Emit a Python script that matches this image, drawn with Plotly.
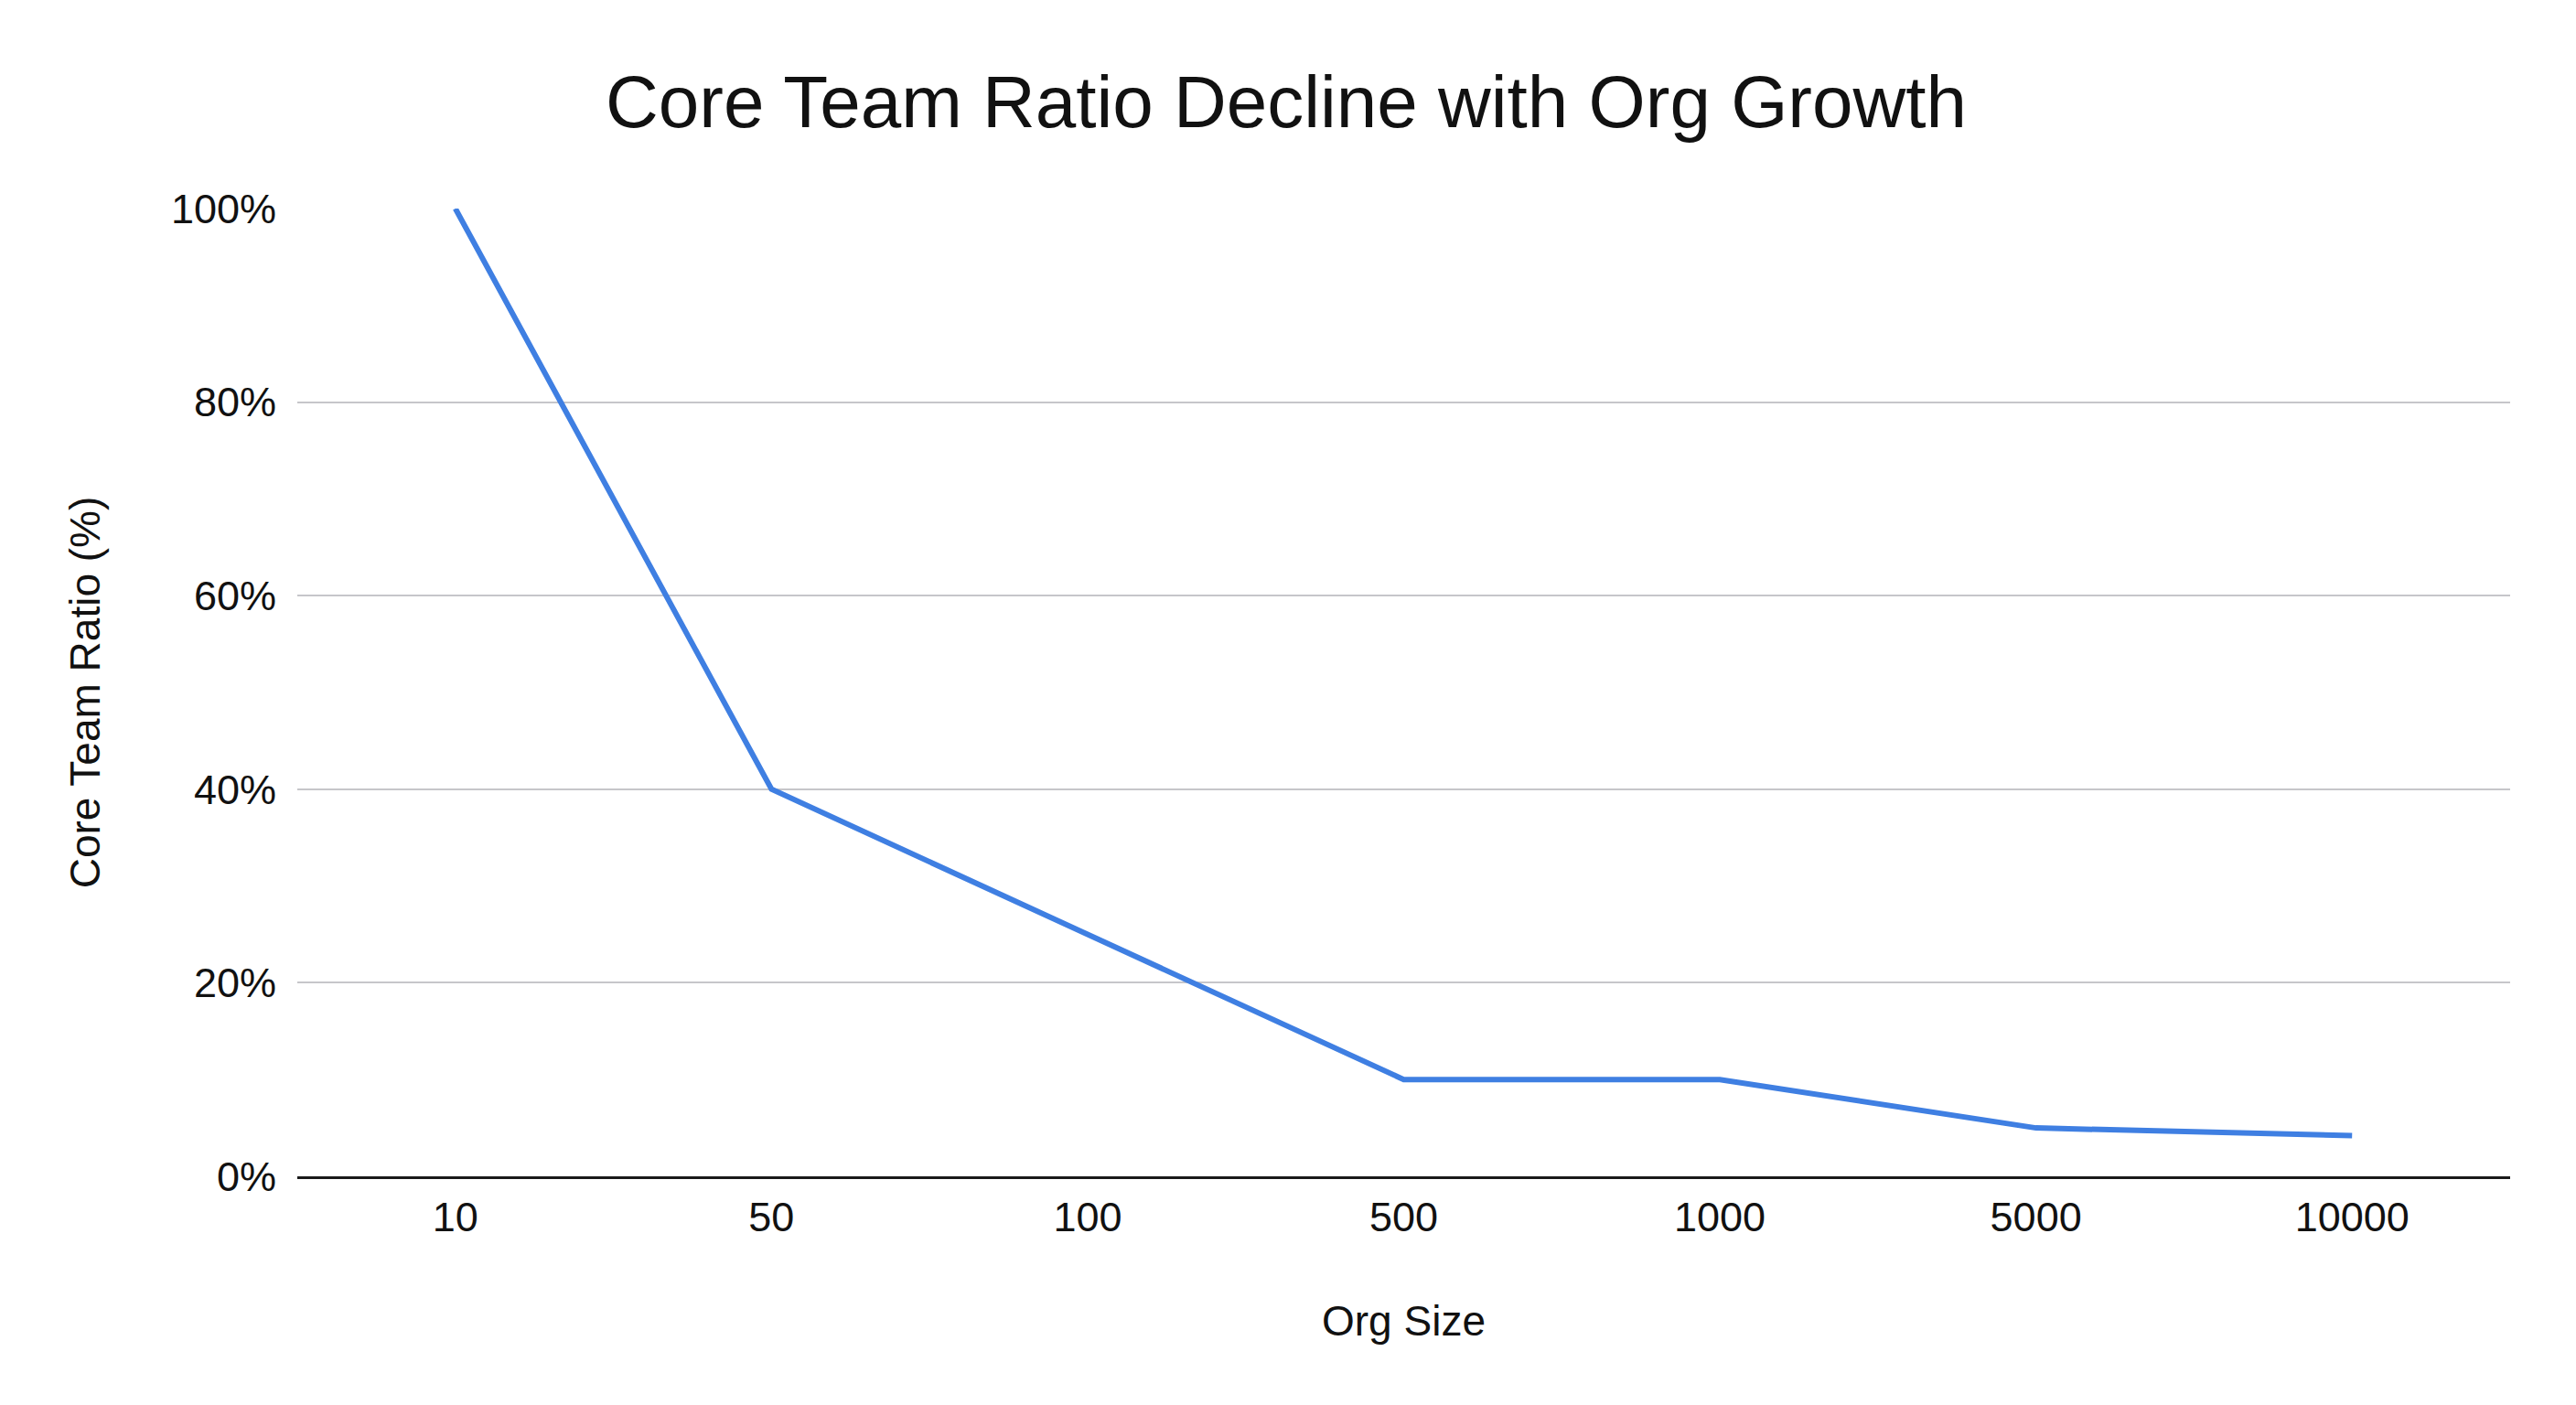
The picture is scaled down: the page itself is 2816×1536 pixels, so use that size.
import plotly.graph_objects as go

org_sizes = ["10", "50", "100", "500", "1000", "5000", "10000"]
core_ratio = [100, 40, 25, 10, 10, 5, 4.2]
y_ticks = [0, 20, 40, 60, 80, 100]

FONT = "Liberation Sans, Arial, sans-serif"

fig = go.Figure()
fig.add_trace(go.Scatter(
    x=org_sizes, y=core_ratio, mode="lines",
    line=dict(color="#3f7fe2", width=6),
    cliponaxis=False, showlegend=False,
))

fig.update_layout(
    width=2808, height=1528,
    paper_bgcolor="#ffffff", plot_bgcolor="#ffffff",
    margin=dict(l=317, r=72, t=220, b=250),
    font=dict(family=FONT, color="#111111"),
    title=dict(text="Core Team Ratio Decline with Org Growth",
               font=dict(size=80, family=FONT, color="#111111"),
               x=(1406 - 8) / 2808, xanchor="center", xref="container",
               y=1 - 103 / 1528, yanchor="middle", yref="container"),
    xaxis=dict(
        type="category", categoryorder="array", categoryarray=org_sizes,
        range=[-0.5, len(org_sizes) - 0.5],
        showgrid=False, showline=True, linecolor="#1a1a1a", linewidth=3,
        ticks="", tickfont=dict(size=45), ticklabelstandoff=3,
        title=dict(text="Org Size", font=dict(size=46), standoff=73),
    ),
    yaxis=dict(
        range=[0, 100], tickvals=y_ticks, ticktext=[f"{v}%" for v in y_ticks],
        showgrid=True, gridcolor="#c6c6ca", gridwidth=2,
        zeroline=False, showline=False, ticks="",
        tickfont=dict(size=45), ticklabelstandoff=22,
        title=dict(text="Core Team Ratio (%)", font=dict(size=46), standoff=62),
    ),
)

fig.write_html("out.html")
